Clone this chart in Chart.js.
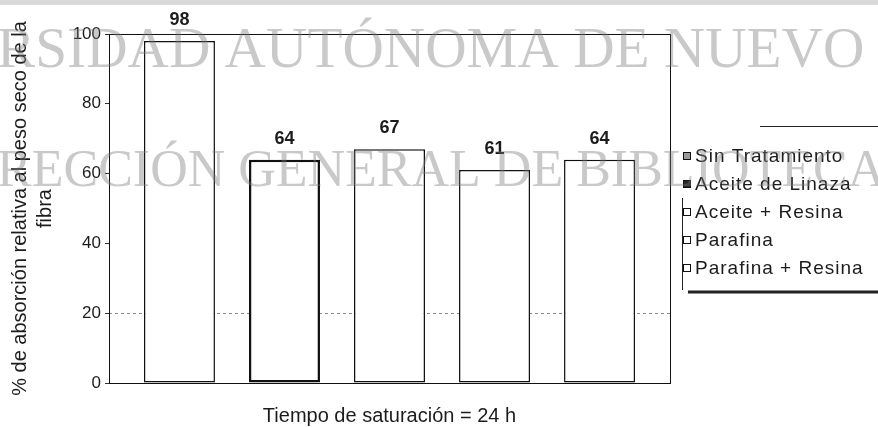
<!DOCTYPE html>
<html lang="es">
<head>
<meta charset="UTF-8">
<title>Absorción relativa al peso seco de la fibra</title>
<script src="https://cdn.jsdelivr.net/npm/chart.js"></script>
<style>
  body { margin: 0; background: #fff; }
  .wrap { width: 878px; height: 427px; position: relative; }
</style>
</head>
<body>
<div class="wrap"><canvas id="absChart"></canvas></div>
<script>
// datos
var categories = ['Tiempo de saturación = 24 h'];
var treatments = ['Sin Tratamiento', 'Aceite de Linaza', 'Aceite + Resina', 'Parafina', 'Parafina + Resina'];
var absorption = [98, 64, 67, 61, 64];
var yTicks = [0, 20, 40, 60, 80, 100];

// estilos
var legendFill = ['#9c9c9c', '#262626', '#ffffff', '#ffffff', '#ffffff'];
var barBorder = [1.5, 2.5, 1.5, 1.5, 1.5];
var watermark = ['RSIDAD AUTÓNOMA DE NUEVO', 'RECCIÓN GENERAL DE BIBLIOTECA'];

var textColor = '#1c1c1c';
var sans = 'Arial, "Liberation Sans", sans-serif';

var extras = {
    id: 'extras',
    beforeDraw: function(chart) {
        var c = chart.ctx;
        c.save();
        c.fillStyle = '#d9d9d9';
        c.fillRect(0, 0, chart.width, 5);
        c.restore();
    },
    beforeDatasetsDraw: function(chart) {
        var c = chart.ctx, a = chart.chartArea, y = chart.scales.y;
        var py = Math.round(y.getPixelForValue(20)) + 0.5;
        c.save();
        c.strokeStyle = '#8a8a8a';
        c.lineWidth = 1;
        c.setLineDash([3, 3]);
        c.beginPath();
        c.moveTo(a.left, py);
        c.lineTo(a.right, py);
        c.stroke();
        c.restore();
    },
    afterDatasetsDraw: function(chart) {
        var c = chart.ctx, a = chart.chartArea;
        c.save();
        // marco del area de trazado
        c.strokeStyle = '#111';
        c.lineWidth = 1;
        c.strokeRect(a.left + 0.5, a.top + 0.5, a.right - a.left, a.bottom - a.top);

        // etiquetas de valor
        c.fillStyle = textColor;
        c.font = 'bold 18px ' + sans;
        c.textAlign = 'center';
        c.textBaseline = 'middle';
        chart.data.datasets.forEach(function(ds, i) {
            var bar = chart.getDatasetMeta(i).data[0];
            c.fillText(String(ds.data[0]), bar.x, bar.y - 21);
        });

        // leyenda
        var lx = a.right + 13, ly = 156, step = 28;
        c.font = '19px ' + sans;
        c.letterSpacing = '1px';
        c.textAlign = 'left';
        chart.data.datasets.forEach(function(ds, i) {
            var yy = ly + step * i;
            c.fillStyle = legendFill[i];
            c.fillRect(lx, yy - 4, 8, 8);
            c.strokeStyle = '#111';
            c.lineWidth = 1;
            c.strokeRect(lx + 0.5, yy - 3.5, 7, 7);
            c.fillStyle = textColor;
            c.fillText(ds.label, lx + 12, yy + 1);
        });
        c.letterSpacing = '0px';
        c.strokeStyle = '#222';
        c.lineWidth = 1;
        c.beginPath();
        c.moveTo(760, 126.5); c.lineTo(chart.width, 126.5);
        c.moveTo(lx - 0.5, 198); c.lineTo(lx - 0.5, 290);
        c.stroke();
        c.lineWidth = 3;
        c.beginPath();
        c.moveTo(lx + 5, 292); c.lineTo(chart.width, 292);
        c.stroke();
        c.restore();
    },
    afterDraw: function(chart) {
        var c = chart.ctx;
        c.save();
        c.fillStyle = 'rgba(120,120,120,0.40)';
        c.textBaseline = 'alphabetic';
        c.textAlign = 'left';
        var spans = [[-3, 865, 67], [-3, 886, 186]];
        watermark.forEach(function(t, i) {
            c.font = '100px "Liberation Serif", "Times New Roman", serif';
            var w = c.measureText(t).width;
            var size = 100 * (spans[i][1] - spans[i][0]) / w;
            c.font = size.toFixed(1) + 'px "Liberation Serif", "Times New Roman", serif';
            c.fillText(t, spans[i][0], spans[i][2]);
        });
        c.restore();
    }
};

var datasets = treatments.map(function(name, i) {
    return {
        label: name,
        data: [absorption[i]],
        backgroundColor: '#ffffff',
        borderColor: '#111111',
        borderWidth: barBorder[i],
        borderSkipped: false
    };
});

new Chart(document.getElementById('absChart'), {
    type: 'bar',
    data: { labels: categories, datasets: datasets },
    options: {
        responsive: true,
        maintainAspectRatio: false,
        animation: false,
        categoryPercentage: 0.936,
        barPercentage: 0.676,
        layout: { padding: { top: 34, right: 208, bottom: 0, left: 4 } },
        plugins: { legend: { display: false }, tooltip: { enabled: false } },
        scales: {
            x: {
                grid: { display: false },
                border: { display: false },
                ticks: { color: textColor, font: { family: sans, size: 20 }, padding: 13 },
                afterFit: function(s) { s.height = 44; }
            },
            y: {
                min: 0,
                max: 100,
                afterBuildTicks: function(s) { s.ticks = yTicks.map(function(v) { return { value: v }; }); },
                grid: { drawOnChartArea: false, drawTicks: true, tickLength: 4, tickColor: '#333' },
                border: { display: false },
                ticks: { color: textColor, font: { family: sans, size: 17 }, padding: 4 },
                title: {
                    display: true,
                    text: ['% de absorción relativa al peso seco de la', 'fibra'],
                    color: textColor,
                    font: { family: sans, size: 20, lineHeight: 1.25 },
                    padding: { top: 4, bottom: 0 }
                },
                afterFit: function(s) { s.width = 105; }
            }
        }
    },
    plugins: [extras]
});
</script>
</body>
</html>
